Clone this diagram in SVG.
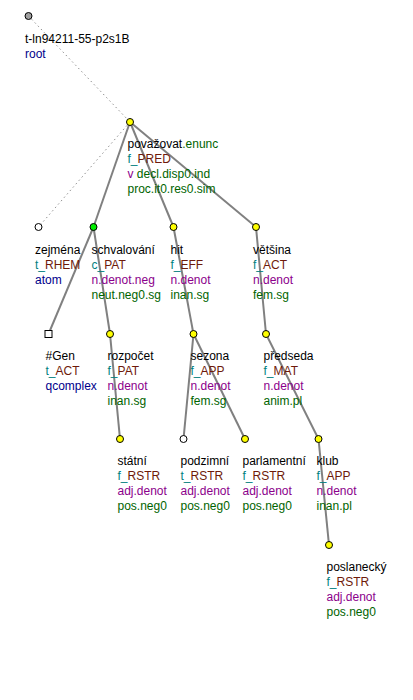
<svg xmlns="http://www.w3.org/2000/svg" width="413" height="700" viewBox="0 0 413 700">
<style>
text{font-family:"Liberation Sans",Arial,sans-serif;font-size:12px;fill:#000}
.e{stroke:#808080;stroke-width:2;fill:none}
.d{stroke:#909090;stroke-width:1;stroke-dasharray:1.5,3;fill:none}
.n{stroke:#000;stroke-width:1}
.y{fill:#ffff00}.g{fill:#00ee00}.w{fill:#fff}.r{fill:#a0a0a0}
.t{fill:#008080}.f{fill:#6e1a0a}.p{fill:#8b008b}.gr{fill:#006400}.b{fill:#00008b}
</style>
<rect width="413" height="700" fill="#fff"/>
<g id="connectors">
<line class="d" x1="28.5" y1="16" x2="130" y2="122"/>
<line class="d" x1="130" y1="122" x2="38.5" y2="227"/>
<line class="e" x1="130" y1="122" x2="93.5" y2="227"/>
<line class="e" x1="130" y1="122" x2="173.5" y2="227"/>
<line class="e" x1="130" y1="122" x2="256" y2="227"/>
<line class="e" x1="93.5" y1="227" x2="48.5" y2="334"/>
<line class="e" x1="93.5" y1="227" x2="110" y2="334"/>
<line class="e" x1="173.5" y1="227" x2="193.5" y2="334"/>
<line class="e" x1="256" y1="227" x2="266" y2="334"/>
<line class="e" x1="110" y1="334" x2="120" y2="439"/>
<line class="e" x1="193.5" y1="334" x2="183.5" y2="439"/>
<line class="e" x1="193.5" y1="334" x2="245" y2="439"/>
<line class="e" x1="266" y1="334" x2="318.5" y2="439"/>
<line class="e" x1="318.5" y1="439" x2="329" y2="545"/>
</g>
<g id="root">
<circle class="n r" cx="28.5" cy="16" r="3.5"/>
<text x="25" y="43">t-ln94211-55-p2s1B</text>
<text x="25" y="58" class="b">root</text>
</g>
<g id="povazovat">
<circle class="n y" cx="130" cy="122" r="3.5"/>
<text x="127.5" y="148">považovat<tspan class="gr">.enunc</tspan></text>
<text x="127.5" y="163"><tspan class="t">f_</tspan><tspan class="f">PRED</tspan></text>
<text x="127.5" y="178"><tspan class="p">v</tspan><tspan class="gr"> decl.disp0.ind</tspan></text>
<text x="127.5" y="193" class="gr">proc.it0.res0.sim</text>
</g>
<g id="zejmena">
<circle class="n w" cx="38.5" cy="227" r="3.5"/>
<text x="35" y="254">zejména</text>
<text x="35" y="269"><tspan class="t">t_</tspan><tspan class="f">RHEM</tspan></text>
<text x="35" y="284" class="b">atom</text>
</g>
<g id="schvalovani">
<circle class="n g" cx="93.5" cy="227" r="3.5"/>
<text x="91.5" y="254">schvalování</text>
<text x="91.5" y="269"><tspan class="t">c_</tspan><tspan class="f">PAT</tspan></text>
<text x="91.5" y="284" class="p">n.denot.neg</text>
<text x="91.5" y="299" class="gr">neut.neg0.sg</text>
</g>
<g id="hit">
<circle class="n y" cx="173.5" cy="227" r="3.5"/>
<text x="170.5" y="254">hit</text>
<text x="170.5" y="269"><tspan class="t">f_</tspan><tspan class="f">EFF</tspan></text>
<text x="170.5" y="284" class="p">n.denot</text>
<text x="170.5" y="299" class="gr">inan.sg</text>
</g>
<g id="vetsina">
<circle class="n y" cx="256" cy="227" r="3.5"/>
<text x="253" y="254">většina</text>
<text x="253" y="269"><tspan class="t">f_</tspan><tspan class="f">ACT</tspan></text>
<text x="253" y="284" class="p">n.denot</text>
<text x="253" y="299" class="gr">fem.sg</text>
</g>
<g id="gen">
<rect class="n w" x="45" y="330.5" width="7" height="7"/>
<text x="45.5" y="360">#Gen</text>
<text x="45.5" y="375"><tspan class="t">t_</tspan><tspan class="f">ACT</tspan></text>
<text x="45.5" y="390" class="b">qcomplex</text>
</g>
<g id="rozpocet">
<circle class="n y" cx="110" cy="334" r="3.5"/>
<text x="107.5" y="360">rozpočet</text>
<text x="107.5" y="375"><tspan class="t">f_</tspan><tspan class="f">PAT</tspan></text>
<text x="107.5" y="390" class="p">n.denot</text>
<text x="107.5" y="405" class="gr">inan.sg</text>
</g>
<g id="sezona">
<circle class="n y" cx="193.5" cy="334" r="3.5"/>
<text x="190.5" y="360">sezona</text>
<text x="190.5" y="375"><tspan class="t">f_</tspan><tspan class="f">APP</tspan></text>
<text x="190.5" y="390" class="p">n.denot</text>
<text x="190.5" y="405" class="gr">fem.sg</text>
</g>
<g id="predseda">
<circle class="n y" cx="266" cy="334" r="3.5"/>
<text x="263.5" y="360">předseda</text>
<text x="263.5" y="375"><tspan class="t">f_</tspan><tspan class="f">MAT</tspan></text>
<text x="263.5" y="390" class="p">n.denot</text>
<text x="263.5" y="405" class="gr">anim.pl</text>
</g>
<g id="statni">
<circle class="n y" cx="120" cy="439" r="3.5"/>
<text x="117.5" y="465">státní</text>
<text x="117.5" y="480"><tspan class="t">f_</tspan><tspan class="f">RSTR</tspan></text>
<text x="117.5" y="495" class="p">adj.denot</text>
<text x="117.5" y="510" class="gr">pos.neg0</text>
</g>
<g id="podzimni">
<circle class="n w" cx="183.5" cy="439" r="3.5"/>
<text x="180.5" y="465">podzimní</text>
<text x="180.5" y="480"><tspan class="t">t_</tspan><tspan class="f">RSTR</tspan></text>
<text x="180.5" y="495" class="p">adj.denot</text>
<text x="180.5" y="510" class="gr">pos.neg0</text>
</g>
<g id="parlamentni">
<circle class="n y" cx="245" cy="439" r="3.5"/>
<text x="242.5" y="465">parlamentní</text>
<text x="242.5" y="480"><tspan class="t">f_</tspan><tspan class="f">RSTR</tspan></text>
<text x="242.5" y="495" class="p">adj.denot</text>
<text x="242.5" y="510" class="gr">pos.neg0</text>
</g>
<g id="klub">
<circle class="n y" cx="318.5" cy="439" r="3.5"/>
<text x="316.5" y="465">klub</text>
<text x="316.5" y="480"><tspan class="t">f_</tspan><tspan class="f">APP</tspan></text>
<text x="316.5" y="495" class="p">n.denot</text>
<text x="316.5" y="510" class="gr">inan.pl</text>
</g>
<g id="poslanecky">
<circle class="n y" cx="329" cy="545" r="3.5"/>
<text x="326.5" y="571">poslanecký</text>
<text x="326.5" y="586"><tspan class="t">f_</tspan><tspan class="f">RSTR</tspan></text>
<text x="326.5" y="601" class="p">adj.denot</text>
<text x="326.5" y="616" class="gr">pos.neg0</text>
</g>
</svg>
